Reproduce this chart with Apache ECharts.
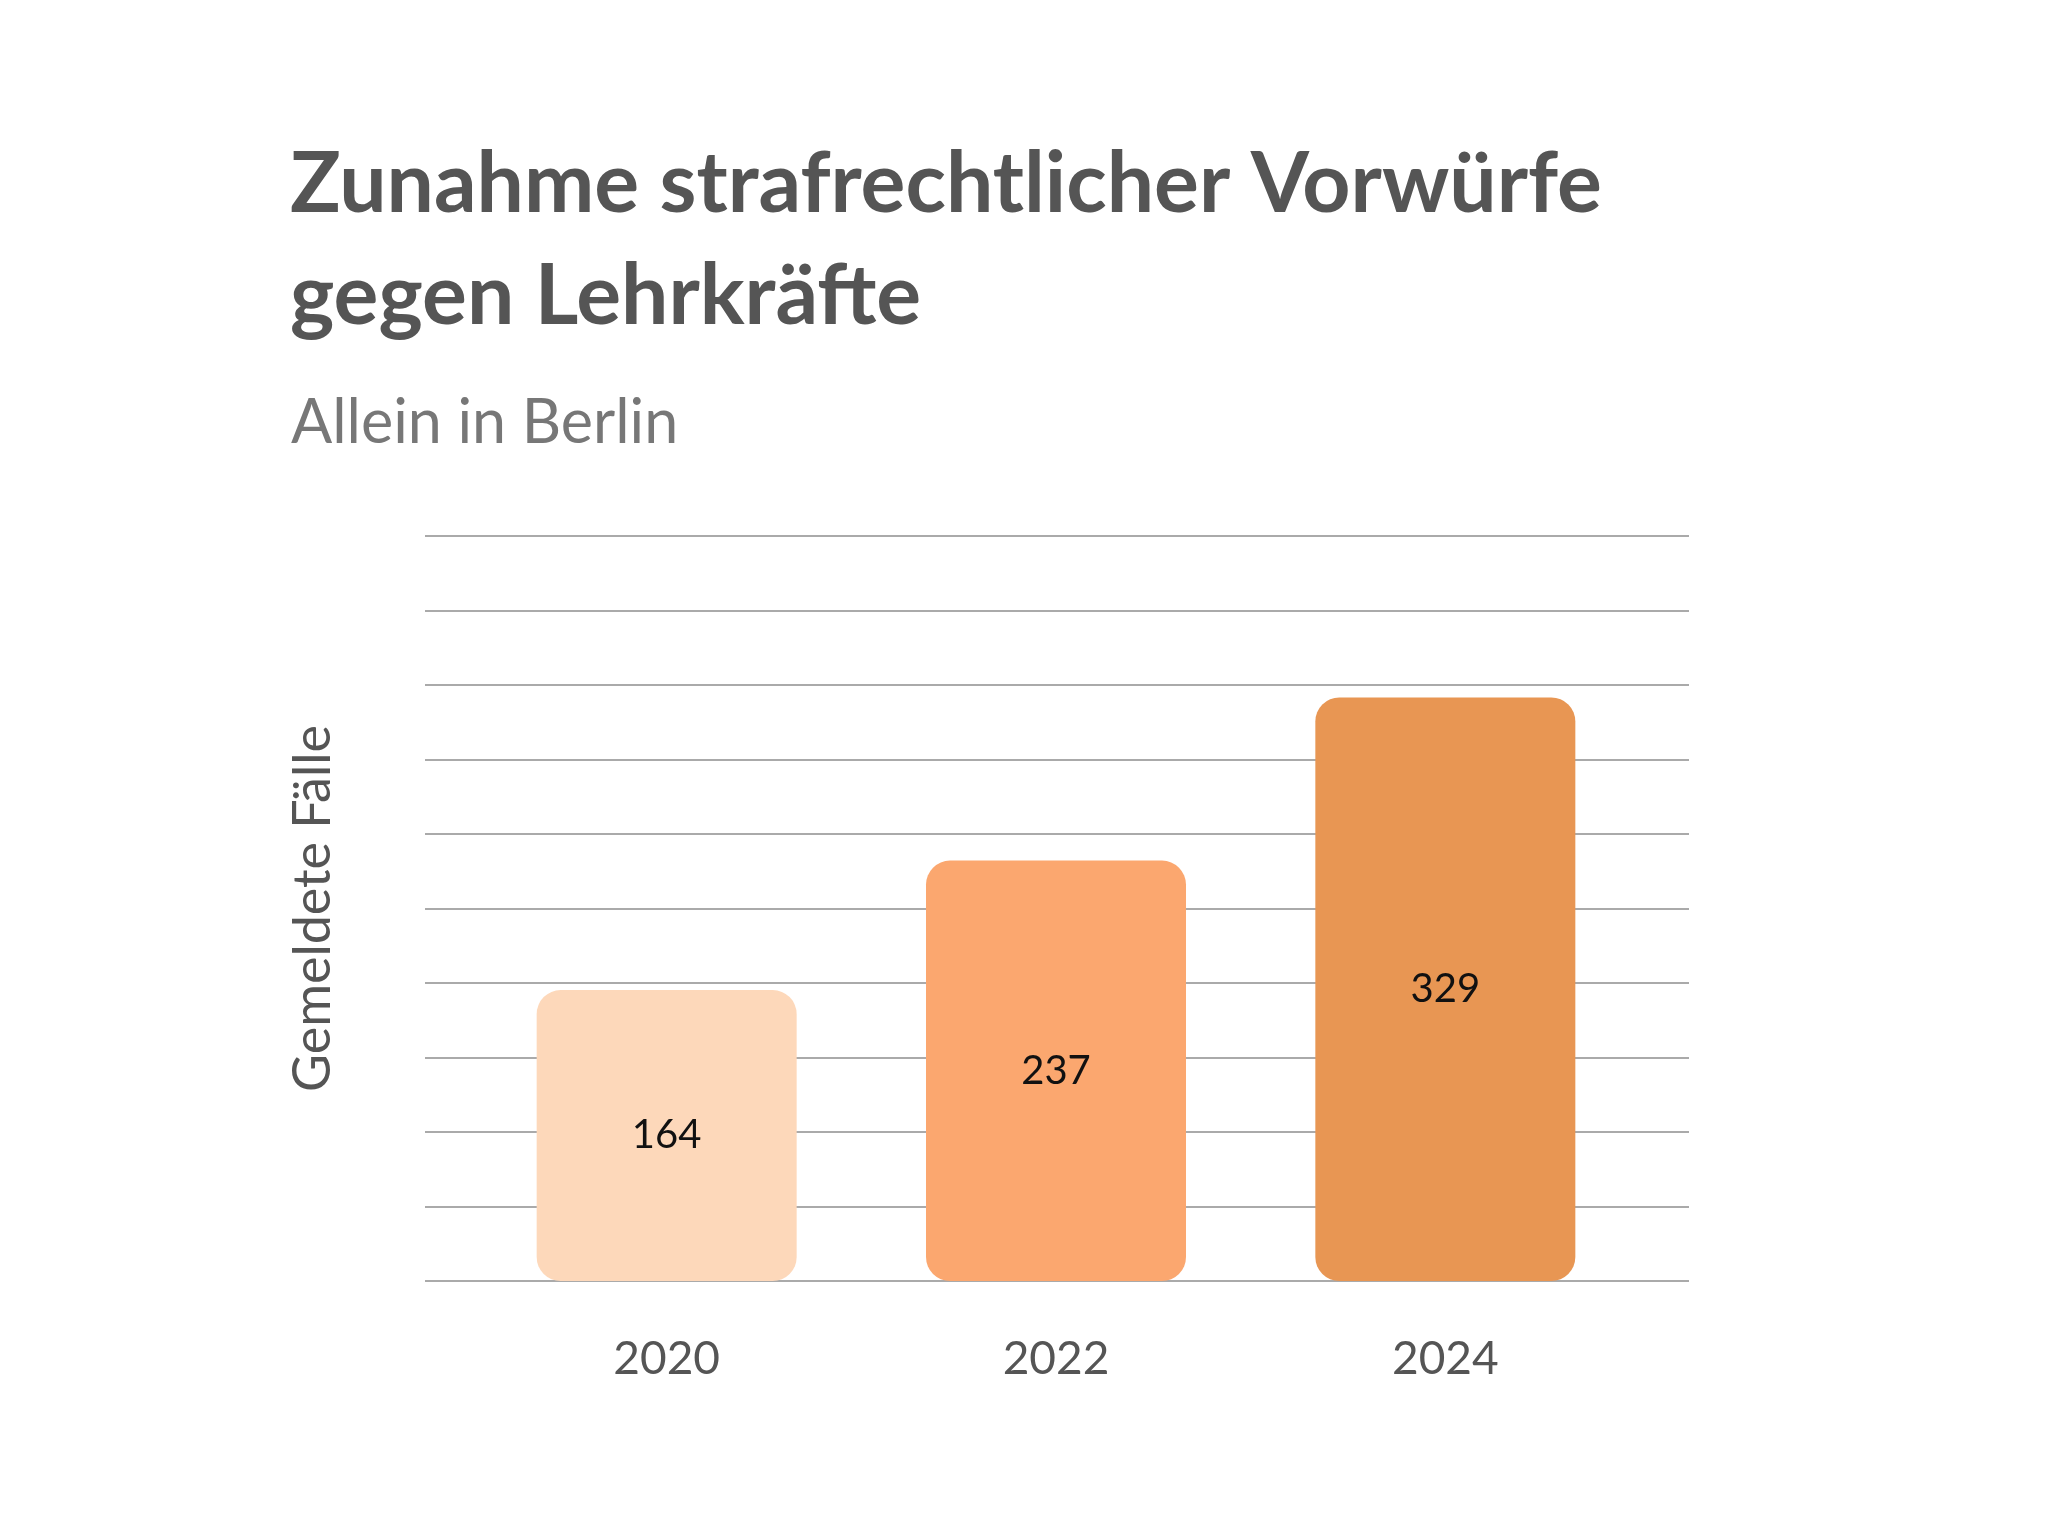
<!DOCTYPE html>
<html>
<head>
<meta charset="utf-8">
<script src="https://cdn.jsdelivr.net/npm/echarts@6/dist/echarts.min.js"></script>
<style>
  html, body { margin: 0; padding: 0; background: #fff; }
  #chart { width: 2048px; height: 1536px; }
</style>
</head>
<body>
<div id="chart"></div>
<script>
// data
const years = ['2020', '2022', '2024'];
const cases = [164, 237, 329];
const barColors = ['#FDD8BA', '#FBA76F', '#E89653'];

const chart = echarts.init(document.getElementById('chart'));

chart.setOption({
    backgroundColor: '#ffffff',
    title: [
        {
            text: 'Zunahme strafrechtlicher Vorwürfe\ngegen Lehrkräfte',
            left: 285, top: 124,
            textStyle: { fontFamily: 'Lato', fontWeight: 'bold', fontSize: 84, color: '#555555', lineHeight: 112 }
        },
        {
            text: 'Allein in Berlin',
            left: 286, top: 388,
            textStyle: { fontFamily: 'Lato', fontWeight: 'normal', fontSize: 61, color: '#777777' }
        }
    ],
    grid: [
        // wide grid for the gridlines
        { left: 425, right: 359, top: 536, bottom: 255 },
        // narrower grid holding the bars
        { left: 472, right: 408, top: 536, bottom: 255 }
    ],
    xAxis: [
        { type: 'category', gridIndex: 0, data: years, show: false },
        {
            type: 'category', gridIndex: 1,
            data: years,
            axisLine: { show: false },
            axisTick: { show: false },
            axisLabel: { fontFamily: 'Lato', fontSize: 46, color: '#555555', margin: 55 }
        }
    ],
    yAxis: [
        {
            type: 'value', gridIndex: 0,
            min: 0, max: 420, interval: 42,
            name: 'Gemeldete Fälle',
            nameLocation: 'middle',
            nameRotate: 90,
            nameGap: 86,
            nameTextStyle: { fontFamily: 'Lato', fontSize: 52, color: '#555555' },
            axisLabel: { show: false },
            axisLine: { show: false },
            axisTick: { show: false },
            splitLine: { lineStyle: { color: '#aaaaaa', width: 2 } }
        },
        {
            type: 'value', gridIndex: 1,
            min: 0, max: 420, interval: 42,
            show: false,
            splitLine: { show: false }
        }
    ],
    series: [{
        type: 'bar',
        xAxisIndex: 1, yAxisIndex: 1,
        barWidth: 260,
        data: cases.map((v, i) => ({ value: v, itemStyle: { color: barColors[i] } })),
        itemStyle: { borderRadius: 24 },
        label: {
            show: true, position: 'inside',
            fontFamily: 'Lato', fontSize: 40, color: '#111111'
        }
    }]
});
</script>
</body>
</html>
